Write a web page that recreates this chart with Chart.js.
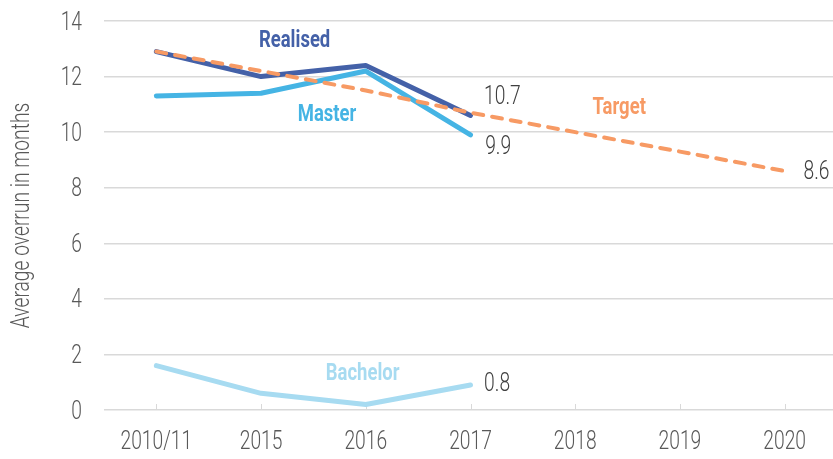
<!DOCTYPE html>
<html>
<head>
<meta charset="utf-8">
<script src="https://cdn.jsdelivr.net/npm/chart.js@4/dist/chart.umd.min.js"></script>
<style>
  html, body { margin: 0; padding: 0; background: #fff; overflow: hidden; }
  #wrap { width: 837px; height: 459px; }
</style>
</head>
<body>
<div id="wrap"><canvas id="chart" width="837" height="459"></canvas></div>
<script>
const years = ['2010/11', '2015', '2016', '2017', '2018', '2019', '2020'];
const realised = [12.9, 12.0, 12.4, 10.6, null, null, null];
const master = [11.3, 11.4, 12.2, 9.9, null, null, null];
const bachelor = [1.6, 0.6, 0.2, 0.9, null, null, null];
const target = [12.9, 12.2, 11.5, 10.7, 10.0, 9.3, 8.6];
const yTicks = [0, 2, 4, 6, 8, 10, 12, 14];
const yTitle = 'Average overrun in months';

// series names and end values written on the chart
const seriesNotes = [
  { text: 'Realised', color: '#4461A8', at: 1.32, value: 13.27 },
  { text: 'Master', color: '#45B4E4', at: 1.63, value: 10.6 },
  { text: 'Target', color: '#F79A64', at: 4.42, value: 10.88 },
  { text: 'Bachelor', color: '#A7DBF1', at: 1.97, value: 1.29 }
];
const valueNotes = [
  { text: '10.7', at: 3.13, value: 11.26 },
  { text: '9.9', at: 3.14, value: 9.46 },
  { text: '8.6', at: 6.18, value: 8.56 },
  { text: '0.8', at: 3.13, value: 0.9 }
];

const FONT = 'Roboto, "DejaVu Sans Condensed", sans-serif';
const SQUEEZE = 0.74;      // the original uses a condensed face
const SQUEEZE_BOLD = 0.77;

function posX(scale, at) {
  const step = scale.getPixelForValue(1) - scale.getPixelForValue(0);
  return scale.getPixelForValue(0) + step * at;
}

function text(ctx, str, x, y, opts) {
  ctx.save();
  ctx.translate(x, y);
  if (opts.rotate) ctx.rotate(opts.rotate);
  ctx.scale(opts.squeeze || SQUEEZE, 1);
  ctx.font = opts.font;
  ctx.fillStyle = opts.color;
  ctx.textAlign = opts.align || 'center';
  ctx.textBaseline = 'middle';
  ctx.fillText(str, 0, 0);
  ctx.restore();
}

const notesPlugin = {
  id: 'notes',
  beforeDatasetsDraw(chart) {
    const ctx = chart.ctx;
    const x = chart.scales.x, y = chart.scales.y;
    const y0 = y.getPixelForValue(0);
    ctx.save();
    ctx.strokeStyle = '#D9D9D9';
    ctx.lineWidth = 1;
    for (let i = 0; i < years.length; i++) {
      const px = Math.round(x.getPixelForValue(i)) + 0.5;
      ctx.beginPath();
      ctx.moveTo(px, y0);
      ctx.lineTo(px, y0 - 6);
      ctx.stroke();
    }
    ctx.restore();

    // axis labels
    const tickFont = '300 26px ' + FONT;
    yTicks.forEach(v => {
      text(ctx, String(v), 82, y.getPixelForValue(v) + 2, { font: tickFont, color: '#595959', align: 'right' });
    });
    years.forEach((lab, i) => {
      text(ctx, lab, x.getPixelForValue(i), 442, { font: tickFont, color: '#595959' });
    });
    const area = chart.chartArea;
    text(ctx, yTitle, 22, (area.top + area.bottom) / 2, {
      font: tickFont, color: '#595959', rotate: -Math.PI / 2
    });
  },
  afterDatasetsDraw(chart) {
    const ctx = chart.ctx;
    const x = chart.scales.x, y = chart.scales.y;
    seriesNotes.forEach(n => {
      text(ctx, n.text, posX(x, n.at), y.getPixelForValue(n.value), {
        font: 'bold 24px ' + FONT, color: n.color, squeeze: SQUEEZE_BOLD
      });
    });
    valueNotes.forEach(n => {
      text(ctx, n.text, posX(x, n.at), y.getPixelForValue(n.value), {
        font: '300 26px ' + FONT, color: '#404040', align: 'left'
      });
    });
  }
};

function line(label, data, color, extra) {
  return Object.assign({
    label, data,
    borderColor: color,
    backgroundColor: color,
    borderWidth: 5,
    pointRadius: 0,
    tension: 0,
    fill: false,
    borderCapStyle: 'round',
    borderJoinStyle: 'round'
  }, extra || {});
}

new Chart(document.getElementById('chart'), {
  type: 'line',
  data: {
    labels: years,
    datasets: [
      line('Bachelor', bachelor, '#A7DBF1'),
      line('Target', target, '#F79A64', { borderWidth: 4, borderDash: [10, 9] }),
      line('Master', master, '#45B4E4'),
      line('Realised', realised, '#4461A8')
    ]
  },
  options: {
    responsive: false,
    animation: false,
    layout: { padding: { top: 21, right: 0, bottom: 0, left: 0 } },
    plugins: {
      legend: { display: false },
      tooltip: { enabled: false }
    },
    scales: {
      x: {
        offset: true,
        grid: { display: false },
        border: { display: false },
        ticks: { display: false },
        afterFit(s) { s.height = 49; }
      },
      y: {
        min: 0,
        max: 14,
        afterBuildTicks(s) { s.ticks = yTicks.map(v => ({ value: v })); },
        grid: { color: '#D9D9D9', lineWidth: 1.5, drawTicks: false },
        border: { display: false },
        ticks: { display: false },
        afterFit(s) { s.width = 104; }
      }
    }
  },
  plugins: [notesPlugin]
});
</script>
</body>
</html>
